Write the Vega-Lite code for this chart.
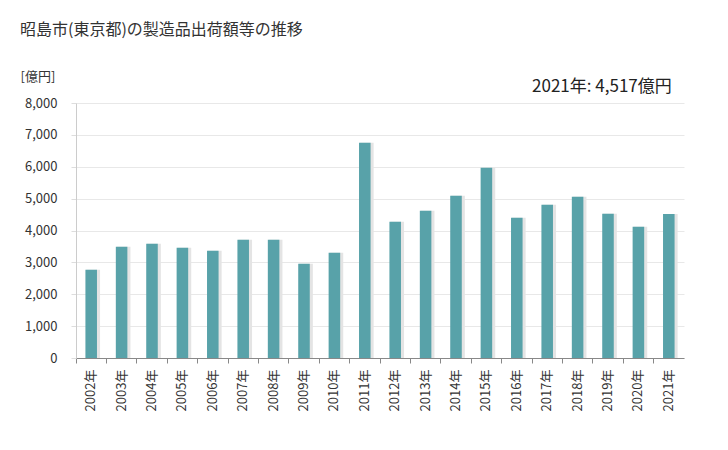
{
  "$schema": "https://vega.github.io/schema/vega-lite/v6.json",
  "width": 608,
  "height": 255,
  "autosize": {"type": "none"},
  "padding": {"left": 76, "top": 103, "right": 44, "bottom": 92},
  "background": "white",
  "title": {
    "text": "昭島市(東京都)の製造品出荷額等の推移",
    "anchor": "start",
    "frame": "group",
    "dx": -56,
    "offset": 32,
    "fontSize": 16,
    "fontWeight": "normal",
    "font": "Noto Sans CJK JP",
    "color": "#333333"
  },
  "config": {
    "view": {"stroke": null},
    "font": "Noto Sans CJK JP"
  },
  "data": {
    "values": [
      {"year": "2002年", "value": 2770},
      {"year": "2003年", "value": 3490},
      {"year": "2004年", "value": 3586},
      {"year": "2005年", "value": 3460},
      {"year": "2006年", "value": 3366},
      {"year": "2007年", "value": 3711},
      {"year": "2008年", "value": 3710},
      {"year": "2009年", "value": 2957},
      {"year": "2010年", "value": 3303},
      {"year": "2011年", "value": 6754},
      {"year": "2012年", "value": 4276},
      {"year": "2013年", "value": 4621},
      {"year": "2014年", "value": 5092},
      {"year": "2015年", "value": 5970},
      {"year": "2016年", "value": 4402},
      {"year": "2017年", "value": 4809},
      {"year": "2018年", "value": 5060},
      {"year": "2019年", "value": 4527},
      {"year": "2020年", "value": 4119},
      {"year": "2021年", "value": 4517}
    ]
  },
  "encoding": {
    "x": {
      "field": "year",
      "type": "nominal",
      "sort": null,
      "scale": {"paddingInner": 0, "paddingOuter": 0},
      "axis": {
        "title": null,
        "labelAngle": -90,
        "labelAlign": "right",
        "labelBaseline": "middle",
        "labelFontSize": 13,
        "labelColor": "#333333",
        "labelPadding": 6,
        "bandPosition": 0,
        "tickSize": 5,
        "tickColor": "#888888",
        "domainColor": "#888888",
        "grid": false
      }
    },
    "y": {
      "field": "value",
      "type": "quantitative",
      "scale": {"domain": [0, 8000], "nice": false},
      "axis": {
        "values": [0, 1000, 2000, 3000, 4000, 5000, 6000, 7000, 8000],
        "format": ",.0f",
        "title": "[億円]",
        "titleAngle": 0,
        "titleAlign": "left",
        "titleBaseline": "middle",
        "titleX": -56,
        "titleY": -27,
        "titleFontSize": 13,
        "titleFontWeight": "normal",
        "titleColor": "#333333",
        "labelFontSize": 13,
        "labelColor": "#333333",
        "labelPadding": 14,
        "tickSize": 5,
        "tickColor": "#dddddd",
        "domainColor": "#cccccc",
        "gridColor": "#e8e8e8"
      }
    }
  },
  "layer": [
    {
      "mark": {"type": "bar", "color": "#e4e4e4", "xOffset": 2, "width": {"band": 0.45}}
    },
    {
      "mark": {"type": "bar", "color": "#58a2a9", "width": {"band": 0.38}}
    },
    {
      "transform": [{"filter": "datum.year == '2021年'"}],
      "mark": {"type": "text", "align": "right", "baseline": "middle", "fontSize": 17, "fontWeight": "normal", "color": "#222222", "dx": 3},
      "encoding": {
        "x": {"field": "year", "type": "nominal", "sort": null},
        "y": {"datum": 8500},
        "text": {"value": "2021年: 4,517億円"}
      }
    }
  ]
}
